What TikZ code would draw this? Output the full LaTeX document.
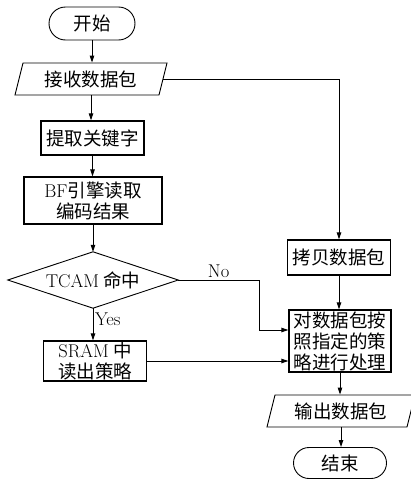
\documentclass[tikz,border=0pt]{standalone}
\usepackage{fontspec}
\newfontfamily\cjk{Noto Sans CJK SC}
\usetikzlibrary{shapes.geometric,shapes.misc,arrows.meta}
\begin{document}
\begin{tikzpicture}[x=1pt,y=-1pt,
 base/.style={font=\fontsize{18.5}{21}\selectfont\cjk, inner sep=0pt, align=center},
 term/.style={base, rounded rectangle, draw, line width=0.9pt},
 io/.style={base, trapezium, trapezium left angle=65, trapezium right angle=115, trapezium stretches body, draw, line width=0.9pt},
 box/.style={base, rectangle, draw, line width=1.3pt},
 dec/.style={base, rectangle},
 conn/.style={line width=1pt, -{Triangle[length=7pt,width=4.5pt]}},
 lbl/.style={font=\fontsize{18.5}{21}\selectfont, inner sep=1.5pt}
]
\useasboundingbox (0,0) rectangle (411,482);
\node[term, minimum width=86pt, minimum height=33pt] (start) at (92,23.5) {开始};
\node[io, minimum width=152pt, minimum height=32pt] (recv) at (91,79) {接收数据包};
\node[box, minimum width=103pt, minimum height=34pt] (key) at (92.5,138) {提取关键字};
\node[box, minimum width=138pt, minimum height=47pt] (bf) at (93,200.5) {{\rmfamily BF}引擎读取\\编码结果};
\node[dec, minimum width=170pt, minimum height=56pt] (tcam) at (93,280) {{\rmfamily TCAM} 命中};
\draw[line width=0.9pt] (tcam.north) -- (tcam.east) -- (tcam.south) -- (tcam.west) -- cycle;
\node[box, minimum width=103pt, minimum height=40pt] (sram) at (95,361) {{\rmfamily SRAM} 中\\读出策略};
\node[box, minimum width=103pt, minimum height=35pt] (copy) at (339,257.5) {拷贝数据包};
\node[box, minimum width=102pt, minimum height=62pt] (proc) at (340,341) {对数据包按\\照指定的策\\略进行处理};
\node[io, minimum width=148pt, minimum height=32pt] (out) at (341,411) {输出数据包};
\node[term, minimum width=93pt, minimum height=31pt] (end) at (340,463) {结束};
\coordinate (nocorner) at (259,280);

\draw[conn] (start.south) -- (start.south |- recv.north);
\draw[conn] (recv.south) -- (recv.south |- key.north);
\draw[conn] (recv.east) -| (copy.north);
\draw[conn] (key.south) -- (key.south |- bf.north);
\draw[conn] (bf.south) -- (bf.south |- tcam.north);
\draw[conn] (tcam.south) -- node[lbl, right, pos=0.35]{Yes} (tcam.south |- sram.north);
\draw[conn] (tcam.east) -- node[lbl, above]{No} (nocorner) |- ([yshift=11pt]proc.west);
\draw[conn] (sram.east) -- (sram.east -| proc.west);
\draw[conn] (copy.south) -- (copy.south |- proc.north);
\draw[conn] (proc.south) -- (proc.south |- out.north);
\draw[conn] (out.south) -- (out.south |- end.north);
\end{tikzpicture}
\end{document}
